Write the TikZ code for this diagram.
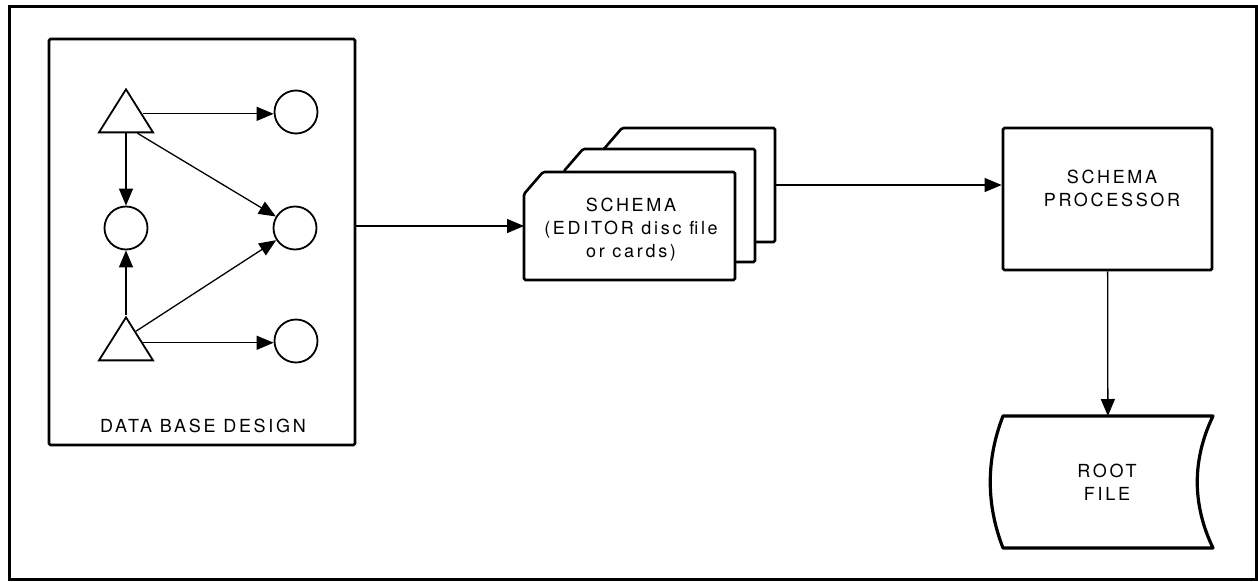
\documentclass[tikz,border=0pt]{standalone}
\usepackage{fontspec}
\setmainfont{TeX Gyre Heros}[LetterSpace=15]
\usetikzlibrary{shapes.geometric, arrows.meta, calc}

\begin{document}
\begin{tikzpicture}[
    x=1pt, y=-1pt,
    frame/.style={draw=black, line width=3pt},
    box/.style={
        rectangle, rounded corners=1.5pt,
        draw=black, line width=2.8pt,
        inner sep=0pt
    },
    entity/.style={
        isosceles triangle, isosceles triangle stretches,
        shape border rotate=90,
        draw=black, line width=1.8pt,
        minimum width=54pt, minimum height=43pt,
        inner sep=0pt, anchor=apex
    },
    attr/.style={
        circle, draw=black, line width=1.8pt,
        minimum size=43pt, inner sep=0pt
    },
    sheet/.style={rectangle, inner sep=0pt, outer sep=0pt},
    card/.style={draw=black, line width=2.6pt, fill=white, rounded corners=1.5pt},
    disk/.style={draw=black, line width=3.2pt, line join=round},
    txt/.style={font=\fontsize{18}{23}\selectfont, align=center},
    arrow/.style={
        -{Triangle[length=17pt, width=14pt]}, line width=1.3pt
    }
]
\useasboundingbox (0,0) rectangle (1258,581);

% Outer frame
\draw[frame] (9,6) rectangle (1256,579);

% Data base design
\node[box, minimum width=306pt, minimum height=406pt] (db) at (202,242) {};
\node[entity] (tri1) at (126,87) {};
\node[entity] (tri2) at (126,315) {};
\node[attr] (c1) at (296,112) {};
\node[attr] (c3) at (126,228) {};
\node[attr] (c2) at (295,228) {};
\node[attr] (c4) at (296,341) {};
\node[txt] (dblabel) at (203,426) {DATA BASE DESIGN};

\coordinate (t1out) at ($(tri1.apex)!0.58!(tri1.right corner)$);
\coordinate (t2out) at ($(tri2.apex)!0.6!(tri2.right corner)$);
\draw[arrow] (t1out) -- (t1out -| c1.west);
\draw[arrow] (tri1) -- (c3);
\draw[arrow] ($(tri1.right corner)!0.3!(tri1.left corner)$) -- (c2);
\draw[arrow] (tri2) -- (c3);
\draw[arrow] ($(tri2.apex)!0.35!(tri2.right corner)$) -- (c2);
\draw[arrow] (t2out) -- (t2out -| c4.west);

% Schema cards (back to front)
\node[sheet, minimum width=172pt, minimum height=114pt] (card3) at (689,185) {};
\node[sheet, minimum width=191pt, minimum height=113pt] (card2) at (659.5,205.5) {};
\node[sheet, minimum width=211pt, minimum height=108pt] (card1) at (629.5,226) {};
\foreach \c in {card3, card2, card1} {
    \draw[card] ($(\c.north west)+(0,22)$) -- ($(\c.north west)+(19,0)$)
        -- (\c.north east) -- (\c.south east) -- (\c.south west) -- cycle;
}
\node[txt] (schema) at (631,230) {SCHEMA\\(EDITOR disc file\\or cards)};

% Schema processor
\node[box, minimum width=209pt, minimum height=142pt] (proc) at (1107.5,199) {};
\node[txt] (proctext) at (1112,188) {SCHEMA\\PROCESSOR};

% Root file
\node[sheet, minimum width=210pt, minimum height=132pt] (root) at (1108,482) {};
\draw[disk] (root.north west)
    .. controls ($(root.north west)!0.33!(root.south west)+(-17,0)$)
    and ($(root.north west)!0.67!(root.south west)+(-17,0)$) .. (root.south west)
    -- (root.south east)
    .. controls ($(root.south east)!0.33!(root.north east)+(-21,0)$)
    and ($(root.south east)!0.67!(root.north east)+(-21,0)$) .. (root.north east)
    -- cycle;
\node[txt] (roottext) at (1107,482) {ROOT\\FILE};

% Connectors
\draw[arrow] (db.east |- card1.west) -- (card1.west);
\draw[arrow] (card3.east) -- (card3.east -| proc.west);
\draw[arrow] (proc) -- (root);

\end{tikzpicture}
\end{document}
